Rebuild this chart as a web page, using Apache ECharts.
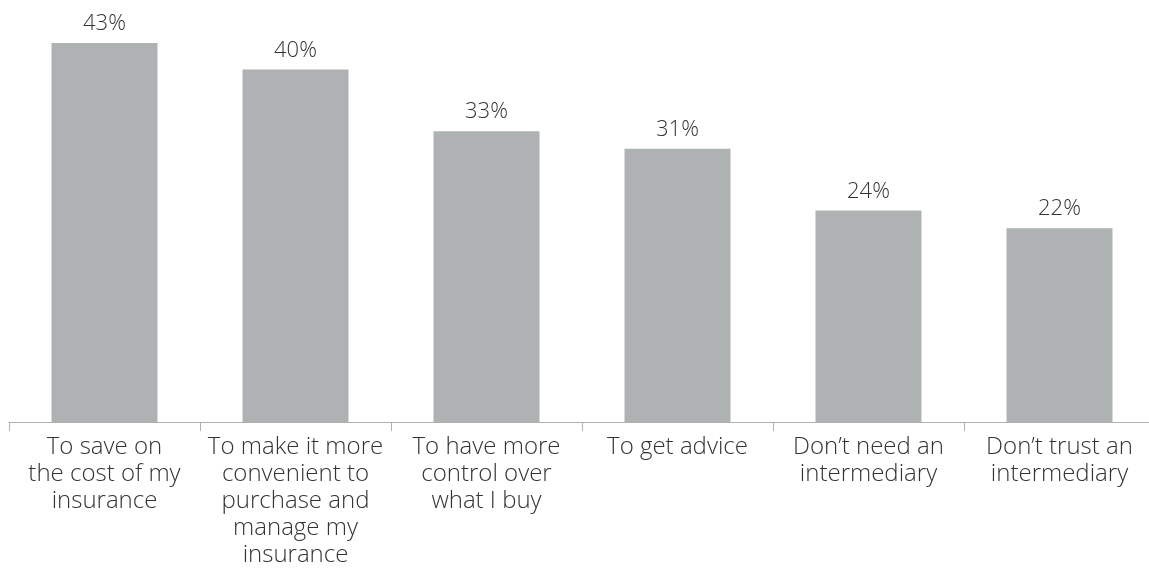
<!DOCTYPE html>
<html><head><meta charset="utf-8">
<script src="https://cdn.jsdelivr.net/npm/echarts@6/dist/echarts.min.js"></script>
<style>html,body{margin:0;padding:0;background:#fff;overflow:hidden;width:1149px;height:570px}#c{width:1160px;height:570px}</style>
</head><body><div id="c"></div>
<script>
const categories = ["To save on\nthe cost of my\ninsurance","To make it more\nconvenient to\npurchase and\nmanage my\ninsurance","To have more\ncontrol over\nwhat I buy","To get advice","Don\u2019t need an\nintermediary","Don\u2019t trust an\nintermediary"];
const values = [43,40,33,31,24,22];
const chart = echarts.init(document.getElementById('c'));
chart.setOption({
  animation:false,
  grid:{left:9,width:1146,top:25.5,height:396.5,containLabel:false},
  xAxis:{type:'category',data:categories,
    axisLine:{lineStyle:{color:'#b0b0b0',width:1}},
    axisTick:{show:true,length:9,lineStyle:{color:'#b0b0b0'}},
    axisLabel:{interval:0,fontFamily:'Open Sans',fontWeight:300,fontSize:24,lineHeight:27,color:'#333',margin:12,align:'center'}},
  yAxis:{type:'value',min:0,max:45,show:false,splitLine:{show:false}},
  series:[{type:'bar',data:values,barWidth:106,itemStyle:{color:'#afb2b2'},
    label:{show:true,position:'top',distance:8,formatter:'{c}%',fontFamily:'Open Sans',fontWeight:300,fontSize:22,color:'#333'}}]
});
</script></body></html>
